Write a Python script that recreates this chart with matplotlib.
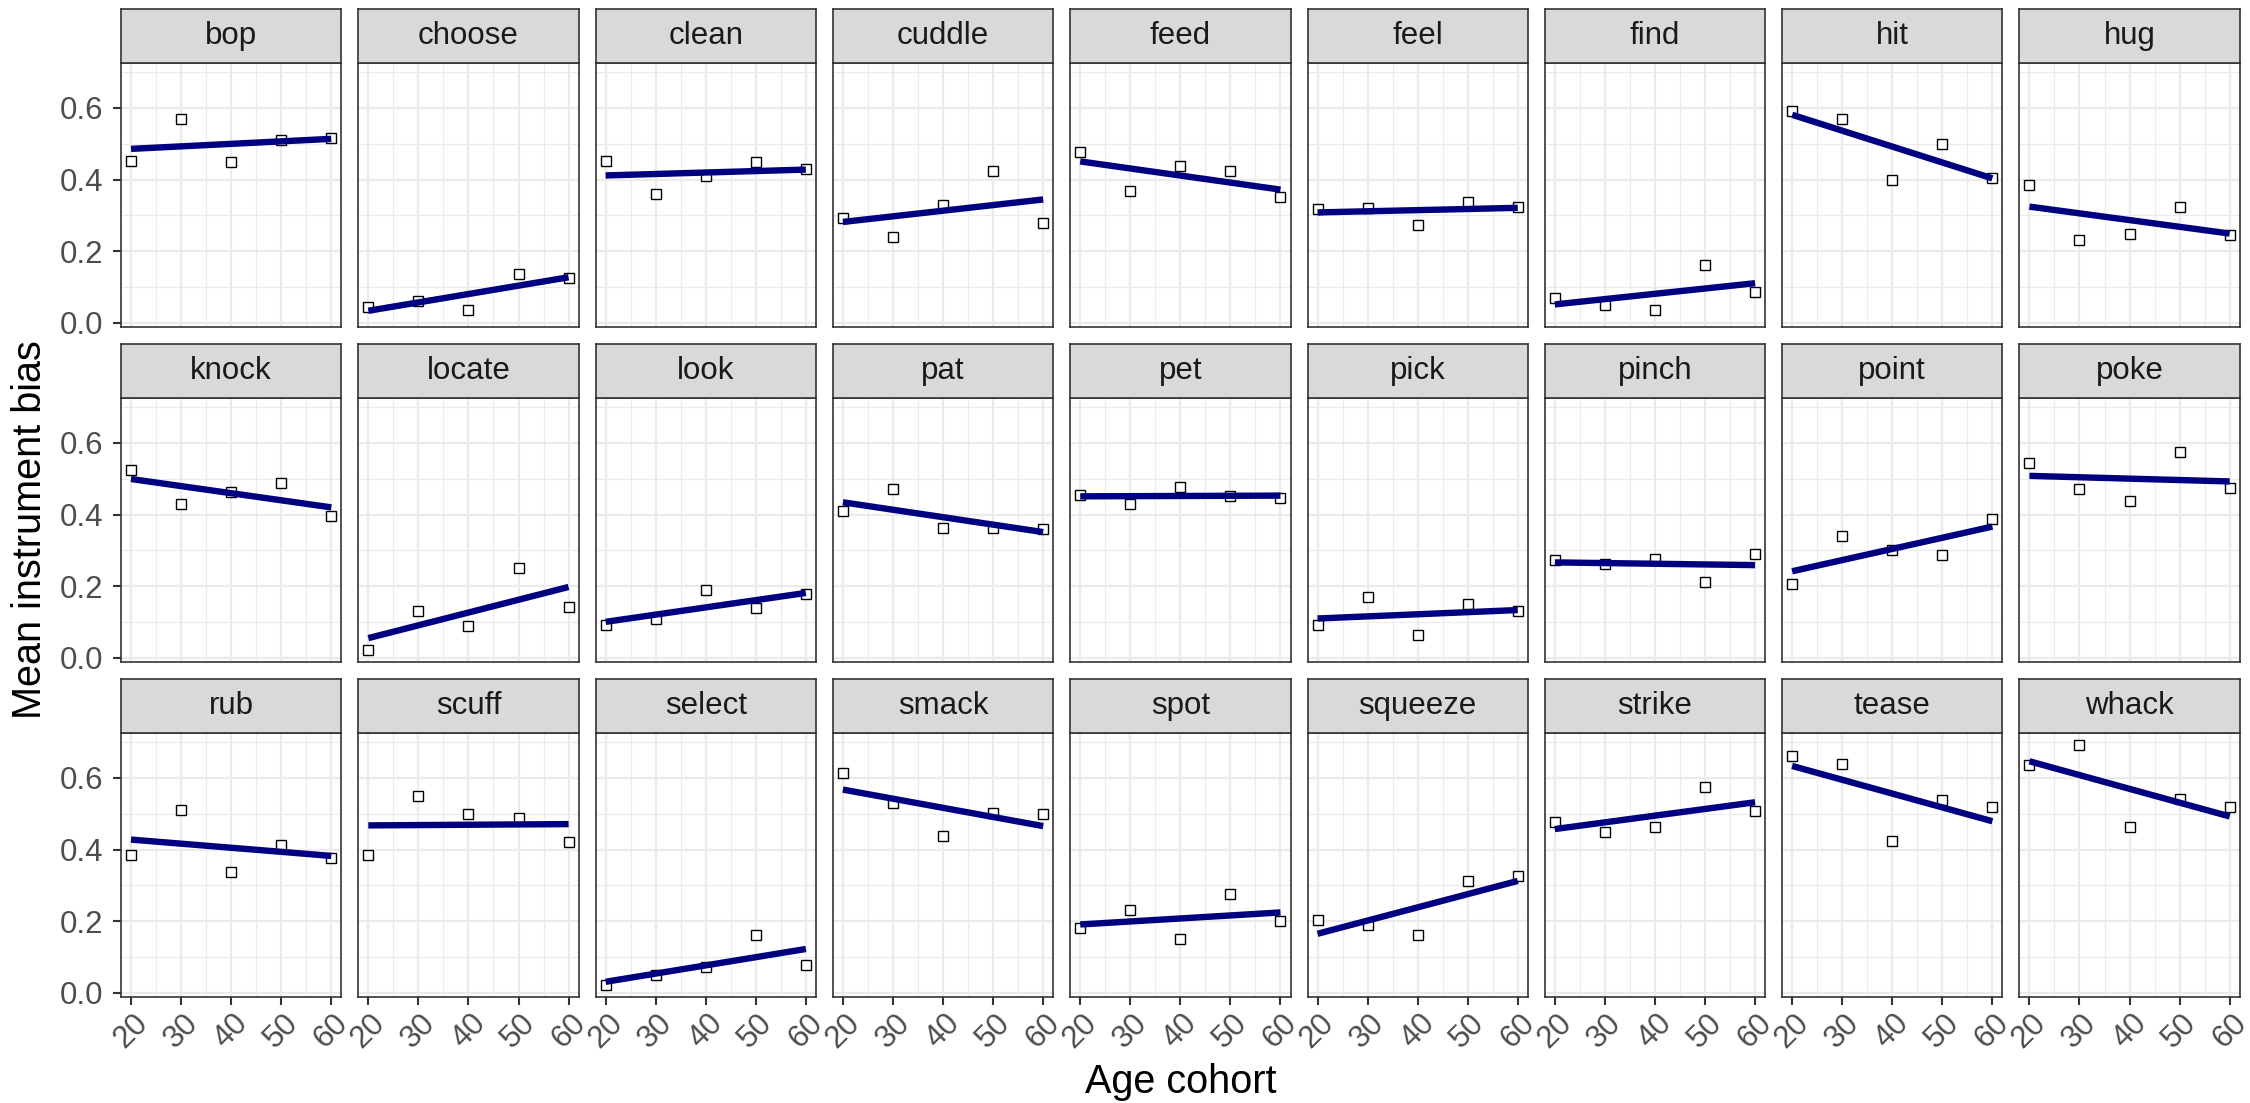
import numpy as np
import matplotlib
matplotlib.use("Agg")
import matplotlib.pyplot as plt
from matplotlib.ticker import MultipleLocator

plt.rcParams['font.family'] = ['Liberation Sans', 'DejaVu Sans']

ages = [20, 30, 40, 50, 60]

# facet rows (mean instrument bias per age cohort)
top_verbs = ["bop", "choose", "clean", "cuddle", "feed", "feel", "find", "hit", "hug"]
top_bias = [
    [0.453, 0.569, 0.448, 0.511, 0.517],
    [0.045, 0.060, 0.037, 0.136, 0.124],
    [0.453, 0.359, 0.409, 0.448, 0.429],
    [0.294, 0.239, 0.328, 0.424, 0.280],
    [0.476, 0.369, 0.437, 0.424, 0.350],
    [0.317, 0.320, 0.274, 0.338, 0.324],
    [0.069, 0.050, 0.037, 0.162, 0.087],
    [0.590, 0.569, 0.399, 0.499, 0.403],
    [0.386, 0.230, 0.249, 0.324, 0.245],
]

mid_verbs = ["knock", "locate", "look", "pat", "pet", "pick", "pinch", "point", "poke"]
mid_bias = [
    [0.523, 0.430, 0.462, 0.488, 0.395],
    [0.022, 0.131, 0.088, 0.250, 0.141],
    [0.092, 0.108, 0.188, 0.138, 0.178],
    [0.409, 0.470, 0.363, 0.362, 0.359],
    [0.455, 0.430, 0.476, 0.451, 0.447],
    [0.092, 0.171, 0.063, 0.150, 0.132],
    [0.274, 0.261, 0.277, 0.212, 0.289],
    [0.205, 0.340, 0.300, 0.288, 0.387],
    [0.545, 0.470, 0.438, 0.575, 0.473],
]

bottom_verbs = ["rub", "scuff", "select", "smack", "spot", "squeeze", "strike", "tease", "whack"]
bottom_bias = [
    [0.386, 0.510, 0.338, 0.414, 0.377],
    [0.386, 0.550, 0.500, 0.489, 0.421],
    [0.021, 0.049, 0.072, 0.162, 0.079],
    [0.614, 0.529, 0.437, 0.502, 0.500],
    [0.182, 0.230, 0.149, 0.276, 0.201],
    [0.204, 0.188, 0.162, 0.313, 0.326],
    [0.477, 0.450, 0.463, 0.575, 0.508],
    [0.660, 0.640, 0.425, 0.538, 0.518],
    [0.635, 0.691, 0.463, 0.540, 0.518],
]

rows = [(top_verbs, top_bias), (mid_verbs, mid_bias), (bottom_verbs, bottom_bias)]

W, H = 2250, 1103
fig = plt.figure(figsize=(W / 100, H / 100), dpi=100)

# layout in pixels (ggplot facet_wrap look)
left0, pw, gap = 121, 220.3, 17
top0, strip_h, cell_h, row_pitch = 9.3, 54, 318, 335

all_vals = np.concatenate([np.array(b).ravel() for _, b in rows])
lo, hi = all_vals.min(), all_vals.max()
pad_y = 0.05 * (hi - lo)
ylim = (lo - pad_y, hi + pad_y)
xlim = (20 - 0.05 * 40, 60 + 0.05 * 40)

border = "#333333"
grid_c = "#EBEBEB"
small = 22.5
big = 28.5

for r, (verbs, bias) in enumerate(rows):
    for c, (verb, vals) in enumerate(zip(verbs, bias)):
        x0 = left0 + c * (pw + gap)
        st = top0 + r * row_pitch
        sb = st + strip_h
        pb = st + cell_h

        ax = fig.add_axes([x0 / W, 1 - pb / H, pw / W, (pb - sb) / H])
        ax.set_xlim(*xlim)
        ax.set_ylim(*ylim)
        ax.xaxis.set_major_locator(MultipleLocator(10))
        ax.xaxis.set_minor_locator(MultipleLocator(5))
        ax.yaxis.set_major_locator(MultipleLocator(0.2))
        ax.yaxis.set_minor_locator(MultipleLocator(0.1))
        ax.grid(which='major', color=grid_c, lw=1.6)
        ax.grid(which='minor', color=grid_c, lw=0.8)
        ax.set_axisbelow(True)
        for s in ax.spines.values():
            s.set_color(border)
            s.set_linewidth(1.2)

        ax.plot(ages, vals, ls='none', marker='s', ms=7, mfc='white',
                mec='black', mew=1.0, zorder=3)
        k, b0 = np.polyfit(ages, vals, 1)
        xs = np.array([ages[0], ages[-1]])
        ax.plot(xs, k * xs + b0, color='#000080', lw=4.6,
                solid_capstyle='butt', zorder=4)

        ax.tick_params(which='minor', length=0)
        ax.tick_params(which='major', color=border, width=1.5, length=5.5,
                       labelsize=small, labelcolor='#4D4D4D')
        if c == 0:
            ax.tick_params(axis='y', pad=7)
            ax.set_yticklabels(["%.1f" % t for t in ax.get_yticks()])
        else:
            ax.tick_params(axis='y', left=False, labelleft=False)
        if r == len(rows) - 1:
            ax.tick_params(axis='x', pad=2)
            for lab in ax.get_xticklabels():
                lab.set_rotation(45)
                lab.set_ha('center')
                lab.set_va('top')
        else:
            ax.tick_params(axis='x', bottom=False, labelbottom=False)

        # strip on top of each panel
        sax = fig.add_axes([x0 / W, 1 - sb / H, pw / W, strip_h / H])
        sax.set_facecolor('#D9D9D9')
        sax.set_xticks([])
        sax.set_yticks([])
        for s in sax.spines.values():
            s.set_color(border)
            s.set_linewidth(1.2)
        sax.text(0.5, 0.5, verb, ha='center', va='center', fontsize=small,
                 color='#1A1A1A', transform=sax.transAxes)

fig.text((left0 + 2240) / 2 / W, 1 - 1082 / H, "Age cohort", ha='center',
         va='center', fontsize=big, color='black')
fig.text(30 / W, 1 - 530 / H, "Mean instrument bias", ha='center',
         va='center', rotation=90, fontsize=big, color='black')

fig.savefig("out.png", dpi=100)
